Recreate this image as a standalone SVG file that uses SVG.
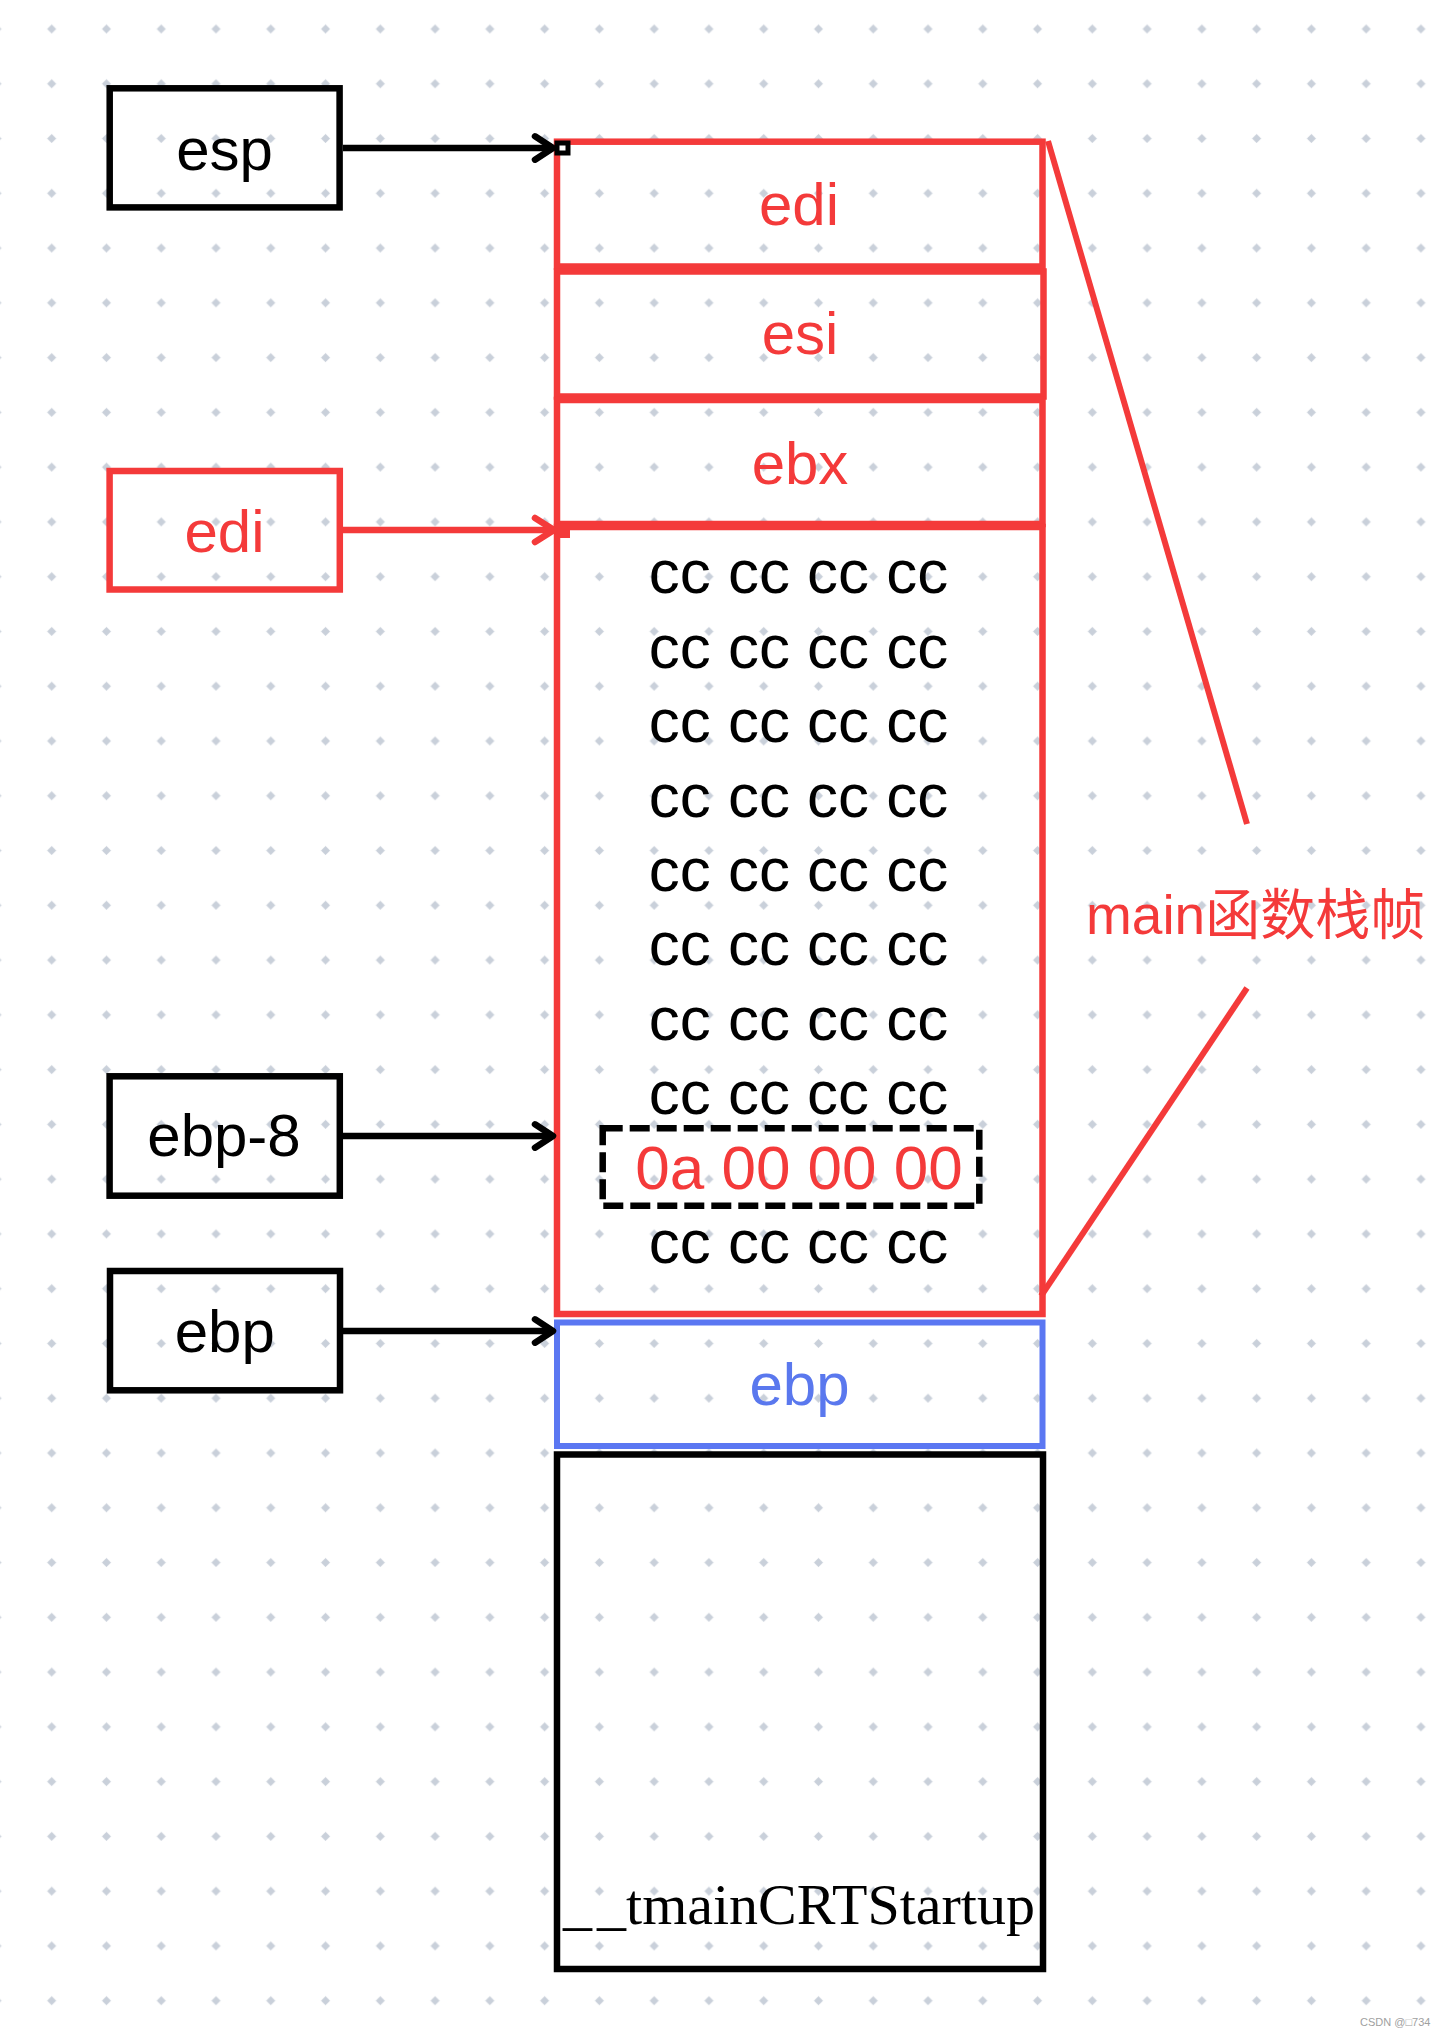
<svg xmlns="http://www.w3.org/2000/svg" width="1440" height="2037" viewBox="0 0 1440 2037">
<defs>
<pattern id="dots" x="24.3" y="1.6" width="54.77" height="54.77" patternUnits="userSpaceOnUse">
<path d="M27.385 23.2 L31.6 27.385 L27.385 31.6 L23.2 27.385 Z" fill="#c9d0da" stroke="#c9d0da" stroke-width="0.8" stroke-linejoin="round"/>
</pattern>
<marker id="chev-k" markerUnits="userSpaceOnUse" markerWidth="40" markerHeight="40" viewBox="-30 -20 40 40" refX="0" refY="0" orient="auto" overflow="visible">
<path d="M-18 -11.7 L0 0 L-18 11.7" fill="none" stroke="#000" stroke-width="6.5" stroke-linecap="round" stroke-linejoin="round"/>
</marker>
<marker id="chev-r" markerUnits="userSpaceOnUse" markerWidth="40" markerHeight="40" viewBox="-30 -20 40 40" refX="0" refY="0" orient="auto" overflow="visible">
<path d="M-19 -12 L0 0 L-19 12" fill="none" stroke="#f43a3a" stroke-width="6.5" stroke-linecap="round" stroke-linejoin="round"/>
</marker>
<style>
.lbl{font-family:"Liberation Sans","Noto Sans CJK SC",sans-serif;font-size:60px;text-anchor:middle}
.k{fill:#000}
.r{fill:#f43a3a}
.b{fill:#5a78ee}
.cc{font-family:"Liberation Sans",sans-serif;font-size:62px;text-anchor:middle;fill:#000}
.box-k{fill:none;stroke:#000;stroke-width:6.5}
.box-r{fill:none;stroke:#f43a3a;stroke-width:6.5}
.box-b{fill:none;stroke:#5b77f2;stroke-width:6}
.conn-k{fill:none;stroke:#000;stroke-width:6.5}
.conn-r{fill:none;stroke:#f43a3a;stroke-width:6.5}
.brace{fill:none;stroke:#f43a3a;stroke-width:6}
</style>
</defs>
<rect width="1440" height="2037" fill="#fff"/>
<rect width="1440" height="2037" fill="url(#dots)"/>

<g id="node-esp">
<rect class="box-k" x="109.7" y="88.3" width="229.9" height="119.1"/>
<text class="lbl k" x="224.6" y="170">esp</text>
</g>
<g id="node-edi-ptr">
<rect class="box-r" x="109.6" y="471" width="230.2" height="118.5"/>
<text class="lbl r" x="224.5" y="552">edi</text>
</g>
<g id="node-ebp-8">
<rect class="box-k" x="109.6" y="1076.3" width="230.2" height="119.4"/>
<text class="lbl k" x="224" y="1156">ebp-8</text>
</g>
<g id="node-ebp-ptr">
<rect class="box-k" x="110" y="1271" width="230" height="119.3"/>
<text class="lbl k" x="224.8" y="1352">ebp</text>
</g>

<g id="node-stack-edi">
<rect class="box-r" x="557" y="141.7" width="485.5" height="124.8"/>
<text class="lbl r" x="799" y="225">edi</text>
</g>
<g id="node-stack-esi">
<rect class="box-r" x="557" y="271.5" width="486.5" height="125"/>
<text class="lbl r" x="800" y="354">esi</text>
</g>
<g id="node-stack-ebx">
<rect class="box-r" x="557" y="400" width="485.5" height="124"/>
<text class="lbl r" x="800" y="483.5">ebx</text>
</g>
<g id="node-stack-locals">
<rect class="box-r" x="557" y="527" width="485.5" height="787"/>
<text class="cc" x="798.5" y="593.3">cc cc cc cc</text>
<text class="cc" x="798.5" y="667.7">cc cc cc cc</text>
<text class="cc" x="798.5" y="742.1">cc cc cc cc</text>
<text class="cc" x="798.5" y="816.5">cc cc cc cc</text>
<text class="cc" x="798.5" y="890.9">cc cc cc cc</text>
<text class="cc" x="798.5" y="965.3">cc cc cc cc</text>
<text class="cc" x="798.5" y="1039.7">cc cc cc cc</text>
<text class="cc" x="798.5" y="1114.1">cc cc cc cc</text>
<text class="cc" x="798.5" y="1263">cc cc cc cc</text>
</g>
<g id="node-var-a">
<rect x="602.7" y="1128.3" width="376.6" height="77.4" fill="none" stroke="#000" stroke-width="6.5" stroke-dasharray="20 7"/>
<text class="cc" style="fill:#f43a3a" x="799" y="1188.5">0a 00 00 00</text>
</g>
<g id="node-stack-ebp">
<rect class="box-b" x="557" y="1322.5" width="485.5" height="123.5"/>
<text class="lbl b" x="799.5" y="1405">ebp</text>
</g>
<g id="node-crt">
<rect class="box-k" x="557" y="1454.5" width="486" height="514.5"/>
<text x="799" y="1924" style="font-family:'Liberation Serif',serif;font-size:58px;text-anchor:middle;fill:#000"><tspan letter-spacing="5">_</tspan>_tmainCRTStartup</text>
</g>
<g id="node-main-label">
<text x="1086" y="934" style="font-family:'Liberation Sans','Noto Sans CJK SC',sans-serif;font-size:55px;fill:#f43a3a">main函数栈帧</text>
</g>

<g id="connectors">
<path class="conn-k" d="M343 148 L553 148" marker-end="url(#chev-k)"/>
<rect x="557" y="143" width="11" height="10" fill="#fff" stroke="#000" stroke-width="5"/>
<path class="conn-r" d="M343 530 L554 530" marker-end="url(#chev-r)"/>
<rect x="559" y="527" width="11" height="11" fill="#f43a3a"/>
<path class="conn-k" d="M343 1136 L553 1136" marker-end="url(#chev-k)"/>
<path class="conn-k" d="M343 1331 L553 1331" marker-end="url(#chev-k)"/>
<path class="brace" d="M1048 141 L1247 824"/>
<path class="brace" d="M1247 988 L1041 1296"/>
</g>

<text x="1360" y="2026" style="font-family:'Liberation Sans','Noto Sans CJK SC',sans-serif;font-size:11px;fill:#a0a0a0">CSDN @□734</text>
</svg>
